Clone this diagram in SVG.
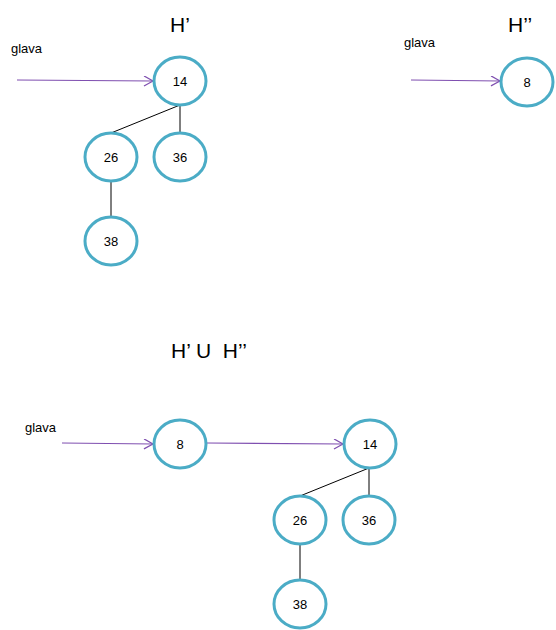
<svg xmlns="http://www.w3.org/2000/svg" width="556" height="630" viewBox="0 0 556 630">
<style>
.n{fill:#fff;stroke:#4BACC6;stroke-width:3}
.t{font-family:"Liberation Sans",Arial,sans-serif;font-size:13px;fill:#000;text-anchor:middle;dominant-baseline:central}
.l{font-family:"Liberation Sans",Arial,sans-serif;font-size:13px;fill:#000}
.h{font-family:"Liberation Sans",Arial,sans-serif;font-size:21px;fill:#000}
.e{stroke:#000;stroke-width:1;fill:none}
.a{stroke:#7F4FB0;stroke-width:1.2;fill:none;marker-end:url(#ar)}
</style>
<defs>
<marker id="ar" markerWidth="12" markerHeight="12" refX="10" refY="5" orient="auto" markerUnits="userSpaceOnUse">
<path d="M1,0 L10,5 L1,10" fill="none" stroke="#7F4FB0" stroke-width="1.2"/>
</marker>
</defs>
<rect width="556" height="630" fill="#fff"/>
<text class="h" x="170" y="32">H’</text>
<text class="h" x="508" y="32">H’’</text>
<text class="h" x="171" y="358" xml:space="preserve">H’ U  H’’</text>
<text class="l" x="11" y="53">glava</text>
<text class="l" x="404" y="47">glava</text>
<text class="l" x="25" y="432">glava</text>
<g id="connectors">
<line class="a" x1="17" y1="80" x2="153" y2="81"/>
<line class="a" x1="411" y1="80" x2="500" y2="81"/>
<line class="a" x1="62" y1="443" x2="153" y2="444"/>
<line class="a" x1="207" y1="443" x2="343" y2="444"/>
<line class="e" x1="180" y1="105" x2="111" y2="133"/>
<line class="e" x1="180" y1="105" x2="180" y2="133"/>
<line class="e" x1="111" y1="181" x2="111" y2="217"/>
<line class="e" x1="369" y1="468" x2="300" y2="496"/>
<line class="e" x1="369" y1="468" x2="369" y2="496"/>
<line class="e" x1="300" y1="544" x2="300" y2="580"/>
</g>
<g id="n14a"><ellipse class="n" cx="180" cy="81" rx="26" ry="24"/><text class="t" x="180" y="81">14</text></g>
<g id="n26a"><ellipse class="n" cx="111" cy="157" rx="26" ry="24"/><text class="t" x="111" y="157">26</text></g>
<g id="n36a"><ellipse class="n" cx="180" cy="157" rx="26" ry="24"/><text class="t" x="180" y="157">36</text></g>
<g id="n38a"><ellipse class="n" cx="111" cy="241" rx="26" ry="24"/><text class="t" x="111" y="241">38</text></g>
<g id="n8a"><ellipse class="n" cx="527" cy="82" rx="26" ry="24"/><text class="t" x="527" y="82">8</text></g>
<g id="n8b"><ellipse class="n" cx="180" cy="444" rx="26" ry="24"/><text class="t" x="180" y="444">8</text></g>
<g id="n14b"><ellipse class="n" cx="370" cy="444" rx="26" ry="24"/><text class="t" x="370" y="444">14</text></g>
<g id="n26b"><ellipse class="n" cx="300" cy="520" rx="26" ry="24"/><text class="t" x="300" y="520">26</text></g>
<g id="n36b"><ellipse class="n" cx="369" cy="520" rx="26" ry="24"/><text class="t" x="369" y="520">36</text></g>
<g id="n38b"><ellipse class="n" cx="300" cy="604" rx="26" ry="24"/><text class="t" x="300" y="604">38</text></g>
</svg>
